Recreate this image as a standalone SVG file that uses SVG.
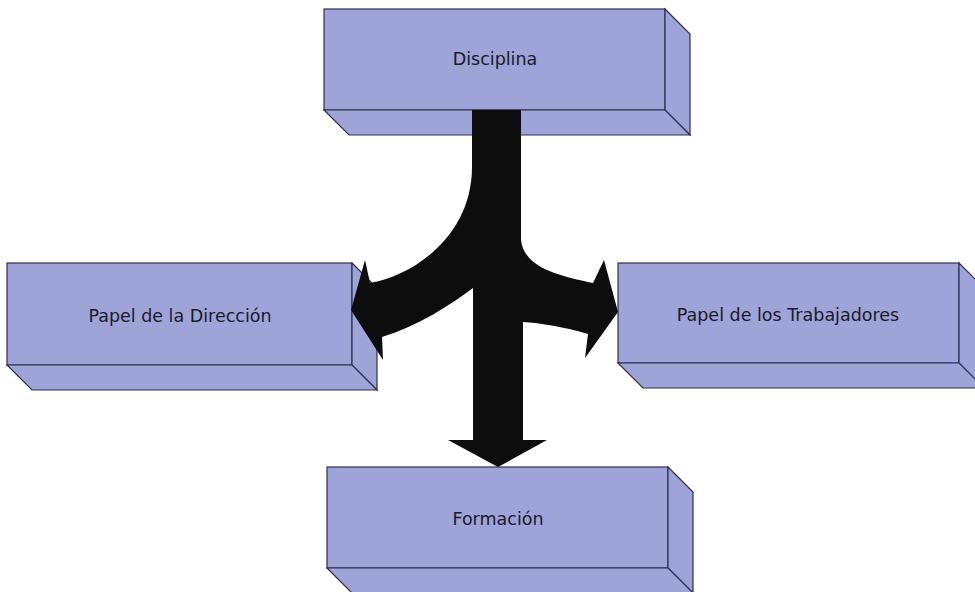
<svg xmlns="http://www.w3.org/2000/svg" width="975" height="592" viewBox="0 0 975 592">
<style>
.face{fill:#9ea3d8;stroke:#2e3050;stroke-width:1.2;stroke-linejoin:miter}
.lbl{font-family:"DejaVu Sans",sans-serif;font-size:17.5px;fill:#1a1a2a;text-anchor:middle}
.arrow{fill:#0d0d0d;stroke:none}
</style>
<rect width="975" height="592" fill="#ffffff"/>
<g id="node-disciplina">
<rect class="face" x="324" y="9" width="341" height="101"/>
<polygon class="face" points="665,9 690,34 690,135 665,110"/>
<polygon class="face" points="324,110 665,110 690,135 349,135"/>
<text class="lbl" x="495" y="65">Disciplina</text>
</g>
<g id="node-direccion">
<rect class="face" x="7" y="263" width="345" height="102"/>
<polygon class="face" points="352,263 377,288 377,390 352,365"/>
<polygon class="face" points="7,365 352,365 377,390 32,390"/>
<text class="lbl" x="180" y="322">Papel de la Dirección</text>
</g>
<g id="node-trabajadores">
<rect class="face" x="618" y="263" width="341" height="100"/>
<polygon class="face" points="959,263 984,288 984,388 959,363"/>
<polygon class="face" points="618,363 959,363 984,388 643,388"/>
<text class="lbl" x="788" y="321">Papel de los Trabajadores</text>
</g>
<g id="node-formacion">
<rect class="face" x="327" y="467" width="341" height="101"/>
<polygon class="face" points="668,467 693,492 693,593 668,568"/>
<polygon class="face" points="327,568 668,568 693,593 352,593"/>
<text class="lbl" x="498" y="525">Formación</text>
</g>
<g id="connectors">
<path class="arrow" d="M472 110 L521 110 L521 240 C524 268 560 276 593 283 L604 260 L618 312 L585 358 L588 334 C565 327 540 323 523 322 L523 440 L547 440 L498 467 L448 440 L473 440 L473 288 C450 305 420 325 382 337 L383 360 L351 310 L365 260 L370 283 C415 275 472 235 472 167 Z"/>
</g>
</svg>
